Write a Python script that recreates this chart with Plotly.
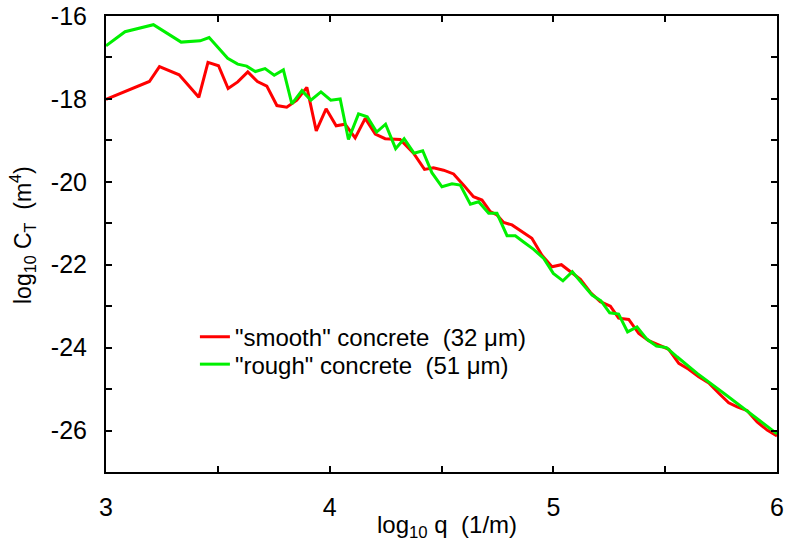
import plotly.graph_objects as go

# red curve: "smooth" concrete
smooth_x = [3.00, 3.194, 3.239, 3.327, 3.415, 3.456, 3.503, 3.546, 3.589, 3.634,
            3.677, 3.719, 3.764, 3.808, 3.853, 3.898, 3.940, 3.984, 4.029, 4.069,
            4.114, 4.159, 4.204, 4.248, 4.315, 4.375, 4.424, 4.464, 4.509, 4.554,
            4.599, 4.643, 4.681, 4.718, 4.748, 4.778, 4.815, 4.860, 4.904, 4.949,
            4.994, 5.036, 5.080, 5.121, 5.166, 5.210, 5.255, 5.292, 5.337, 5.382,
            5.426, 5.471, 5.516, 5.561, 5.605, 5.650, 5.695, 5.740, 5.784, 5.822,
            5.867, 5.911, 5.956, 6.00]
smooth_y = [-18.01, -17.58, -17.22, -17.42, -17.96, -17.12, -17.20, -17.75, -17.59, -17.35,
            -17.58, -17.69, -18.16, -18.20, -18.03, -17.72, -18.77, -18.24, -18.65, -18.61,
            -18.94, -18.47, -18.85, -18.96, -18.98, -19.31, -19.70, -19.66, -19.72, -19.81,
            -20.08, -20.36, -20.44, -20.72, -20.80, -20.98, -21.04, -21.20, -21.36, -21.77,
            -22.05, -22.00, -22.17, -22.35, -22.67, -22.89, -23.00, -23.29, -23.32, -23.66,
            -23.83, -23.94, -24.04, -24.38, -24.52, -24.70, -24.85, -25.10, -25.33, -25.43,
            -25.52, -25.79, -25.99, -26.13]

# green curve: "rough" concrete
rough_x = [3.00, 3.085, 3.212, 3.336, 3.421, 3.461, 3.544, 3.589, 3.629, 3.668,
           3.711, 3.752, 3.793, 3.831, 3.876, 3.916, 3.961, 4.005, 4.047, 4.084,
           4.129, 4.168, 4.210, 4.250, 4.295, 4.333, 4.377, 4.416, 4.457, 4.502,
           4.547, 4.584, 4.629, 4.666, 4.711, 4.748, 4.793, 4.830, 4.867, 4.912,
           4.957, 5.000, 5.043, 5.085, 5.128, 5.173, 5.213, 5.252, 5.292, 5.332,
           5.374, 5.419, 5.461, 5.506, 5.553, 5.643, 5.762, 5.881, 6.00]
rough_y = [-16.72, -16.38, -16.21, -16.63, -16.60, -16.52, -17.02, -17.16, -17.21, -17.34,
           -17.27, -17.43, -17.30, -18.12, -17.80, -18.03, -17.83, -18.03, -18.00, -18.98,
           -18.36, -18.43, -18.80, -18.61, -19.20, -18.96, -19.31, -19.25, -19.78, -20.12,
           -20.05, -20.08, -20.54, -20.48, -20.76, -20.76, -21.30, -21.30, -21.45, -21.63,
           -21.85, -22.21, -22.39, -22.17, -22.45, -22.73, -22.87, -23.16, -23.19, -23.62,
           -23.50, -23.80, -23.96, -24.00, -24.22, -24.62, -25.10, -25.59, -26.08]

x_ticks = [3, 4, 5, 6]
y_ticks = [-16, -18, -20, -22, -24, -26]

fig = go.Figure()
fig.add_trace(go.Scatter(x=smooth_x, y=smooth_y, mode="lines",
                         name='"smooth" concrete  (32 \u03bcm)', showlegend=True,
                         line=dict(color="#ff0000", width=3), legend="legend"))
fig.add_trace(go.Scatter(x=rough_x, y=rough_y, mode="lines",
                         name='"rough" concrete  (51 \u03bcm)', showlegend=True,
                         line=dict(color="#00f000", width=3), legend="legend2"))

axis_common = dict(
    showgrid=False, zeroline=False, automargin=False,
    showline=True, linecolor="black", linewidth=2,
    mirror="allticks", ticks="inside", ticklen=6, tickwidth=1.5, tickcolor="black",
    tickfont=dict(size=25, color="black"), ticklabeloverflow="allow",
)

fig.update_xaxes(range=[3, 6], tickvals=x_ticks, ticktext=[str(v) for v in x_ticks],
                 ticklabelstandoff=12,
                 minor=dict(dtick=0.5, ticks="inside", ticklen=6, tickwidth=1.5, tickcolor="black"),
                 **axis_common)
fig.update_yaxes(range=[-27, -16], tickvals=y_ticks, ticktext=[str(v) for v in y_ticks],
                 ticklabelstandoff=12,
                 minor=dict(dtick=1, ticks="inside", ticklen=6, tickwidth=1.5, tickcolor="black"),
                 **axis_common)

# axis titles as annotations so they sit where the reference has them
fig.add_annotation(text="log<sub>10</sub> q  (1/m)", xref="paper", yref="paper",
                   x=0.508, y=-0.12, xanchor="center", yanchor="middle",
                   showarrow=False, font=dict(size=24, color="black"))
fig.add_annotation(text="log<sub>10</sub> C<sub>T</sub>  (m<sup>4</sup>)", xref="paper", yref="paper",
                   x=-0.125, y=0.52, xanchor="center", yanchor="middle", textangle=-90,
                   showarrow=False, font=dict(size=23, color="black"))

legend_style = dict(xanchor="left", yanchor="top", font=dict(size=24), visible=True,
                    itemwidth=30, bgcolor="rgba(0,0,0,0)")

fig.update_layout(
    width=789, height=548,
    margin=dict(l=106, r=12, t=16, b=76),
    showlegend=True,
    plot_bgcolor="white", paper_bgcolor="white",
    font=dict(family="Liberation Sans, Arial, sans-serif", color="black"),
    legend=dict(x=0.1325, y=0.345, **legend_style),
    legend2=dict(x=0.1325, y=0.285, **legend_style),
)

# drop the page's default body margin so the figure fills the window
fig.write_html("out.html", config={"displayModeBar": False},
               post_script="document.body.style.margin='0';")
